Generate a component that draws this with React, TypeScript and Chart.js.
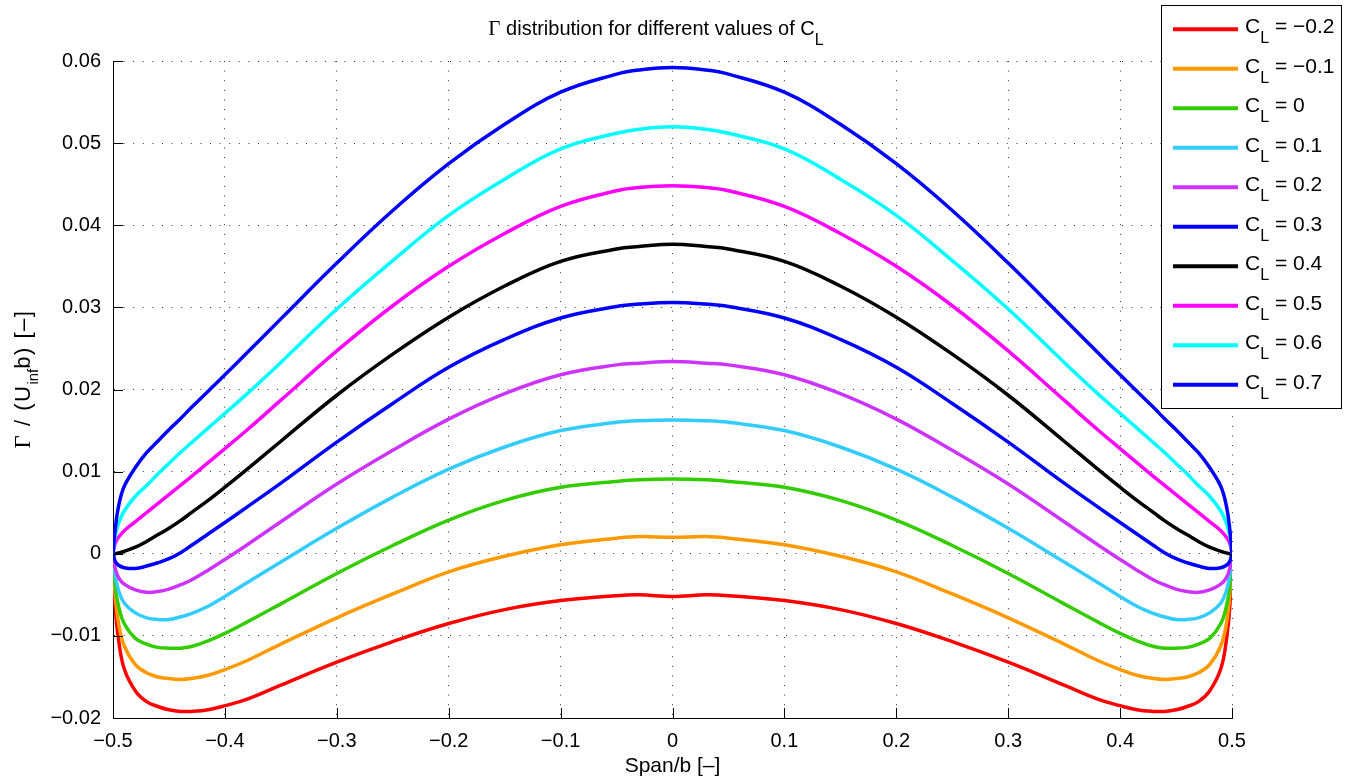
import React, { useEffect, useRef } from "react";
import { Chart, registerables } from "chart.js";

Chart.register(...registerables);

// Span positions (Span/b)
const spanX = [
  -0.5, -0.498, -0.495, -0.49, -0.48, -0.47, -0.46, -0.45, -0.44, -0.43, -0.415,
  -0.4, -0.38, -0.35, -0.3, -0.25, -0.2, -0.15, -0.1, -0.05, -0.03, 0,
  0.03, 0.05, 0.1, 0.15, 0.2, 0.25, 0.3, 0.35, 0.38, 0.4,
  0.415, 0.43, 0.44, 0.45, 0.46, 0.47, 0.48, 0.49, 0.495, 0.498, 0.5,
];

const clLabels = ["\u22120.2", "\u22120.1", "0", "0.1", "0.2", "0.3", "0.4", "0.5", "0.6", "0.7"];

const gammaCLm02 = [
  0, -0.0065, -0.0105, -0.014, -0.0167, -0.018, -0.0186, -0.019, -0.0192, -0.0192, -0.019,
  -0.0185, -0.0177, -0.016, -0.0132, -0.0107, -0.0085, -0.0068, -0.0057, -0.0051, -0.005, -0.0052,
  -0.005, -0.0051, -0.0057, -0.0068, -0.0085, -0.0107, -0.0132, -0.016, -0.0177, -0.0185,
  -0.019, -0.0192, -0.0192, -0.019, -0.0186, -0.018, -0.0167, -0.014, -0.0105, -0.0065, 0,
];
const gammaCLm01 = [
  0, -0.005, -0.0085, -0.0112, -0.0135, -0.0145, -0.015, -0.0152, -0.0153, -0.0152, -0.0148,
  -0.0141, -0.013, -0.011, -0.0078, -0.0049, -0.0022, -0.0003, 0.0011, 0.0019, 0.0021, 0.002,
  0.0021, 0.0019, 0.0011, -0.0003, -0.0022, -0.0049, -0.0078, -0.011, -0.013, -0.0141,
  -0.0148, -0.0152, -0.0153, -0.0152, -0.015, -0.0145, -0.0135, -0.0112, -0.0085, -0.005, 0,
];
const gammaCL00 = [
  0, -0.004, -0.0064, -0.0085, -0.0103, -0.011, -0.0114, -0.0115, -0.0115, -0.0113, -0.0106,
  -0.0097, -0.0083, -0.0061, -0.0024, 0.001, 0.0041, 0.0065, 0.0081, 0.0088, 0.009, 0.0091,
  0.009, 0.0088, 0.0081, 0.0065, 0.0041, 0.001, -0.0024, -0.0061, -0.0083, -0.0097,
  -0.0106, -0.0113, -0.0115, -0.0115, -0.0114, -0.011, -0.0103, -0.0085, -0.0064, -0.004, 0,
];
const gammaCL01 = [
  0, -0.0026, -0.0045, -0.006, -0.0072, -0.0078, -0.008, -0.008, -0.0077, -0.0073, -0.0064,
  -0.0052, -0.0035, -0.001, 0.0031, 0.0069, 0.0103, 0.013, 0.015, 0.016, 0.0162, 0.0163,
  0.0162, 0.016, 0.015, 0.013, 0.0103, 0.0069, 0.0031, -0.001, -0.0035, -0.0052,
  -0.0064, -0.0073, -0.0077, -0.008, -0.008, -0.0078, -0.0072, -0.006, -0.0045, -0.0026, 0,
];
const gammaCL02 = [
  0, -0.0018, -0.0029, -0.0037, -0.0044, -0.0047, -0.0046, -0.0043, -0.0038, -0.0032, -0.002,
  -0.0007, 0.0011, 0.0039, 0.0085, 0.0126, 0.0164, 0.0195, 0.0218, 0.023, 0.0232, 0.0234,
  0.0232, 0.023, 0.0218, 0.0195, 0.0164, 0.0126, 0.0085, 0.0039, 0.0011, -0.0007,
  -0.002, -0.0032, -0.0038, -0.0043, -0.0046, -0.0047, -0.0044, -0.0037, -0.0029, -0.0018, 0,
];
const gammaCL03 = [
  0, -0.0009, -0.0014, -0.0017, -0.0018, -0.0015, -0.0011, -0.0006, 0.0001, 0.001, 0.0024,
  0.0038, 0.0057, 0.0086, 0.0136, 0.0183, 0.0227, 0.0261, 0.0287, 0.0301, 0.0304, 0.0306,
  0.0304, 0.0301, 0.0287, 0.0261, 0.0227, 0.0183, 0.0136, 0.0086, 0.0057, 0.0038,
  0.0024, 0.001, 0.0001, -0.0006, -0.0011, -0.0015, -0.0018, -0.0017, -0.0014, -0.0009, 0,
];
const gammaCL04 = [
  0, 0.0, 0.0001, 0.0003, 0.0008, 0.0015, 0.0023, 0.0031, 0.004, 0.005, 0.0065,
  0.0081, 0.0103, 0.0137, 0.0193, 0.0243, 0.0288, 0.0326, 0.0356, 0.0371, 0.0374, 0.0377,
  0.0374, 0.0371, 0.0356, 0.0326, 0.0288, 0.0243, 0.0193, 0.0137, 0.0103, 0.0081,
  0.0065, 0.005, 0.004, 0.0031, 0.0023, 0.0015, 0.0008, 0.0003, 0.0001, 0.0, 0,
];
const gammaCL05 = [
  0, 0.0013, 0.002, 0.0028, 0.0039, 0.005, 0.0061, 0.0072, 0.0083, 0.0094, 0.0111,
  0.0128, 0.0151, 0.0187, 0.0247, 0.0302, 0.035, 0.039, 0.0423, 0.0442, 0.0446, 0.0448,
  0.0446, 0.0442, 0.0423, 0.039, 0.035, 0.0302, 0.0247, 0.0187, 0.0151, 0.0128,
  0.0111, 0.0094, 0.0083, 0.0072, 0.0061, 0.005, 0.0039, 0.0028, 0.002, 0.0013, 0,
];
const gammaCL06 = [
  0, 0.0022, 0.0037, 0.0052, 0.007, 0.0083, 0.0097, 0.011, 0.0123, 0.0135, 0.0153,
  0.0171, 0.0195, 0.0233, 0.0298, 0.0357, 0.0412, 0.0456, 0.0493, 0.0512, 0.0517, 0.052,
  0.0517, 0.0512, 0.0493, 0.0456, 0.0412, 0.0357, 0.0298, 0.0233, 0.0195, 0.0171,
  0.0153, 0.0135, 0.0123, 0.011, 0.0097, 0.0083, 0.007, 0.0052, 0.0037, 0.0022, 0,
];
const gammaCL07 = [
  0, 0.003, 0.0058, 0.0082, 0.0105, 0.0123, 0.0137, 0.0151, 0.0164, 0.0178, 0.0198,
  0.0218, 0.0245, 0.0286, 0.0354, 0.0418, 0.0475, 0.0523, 0.0562, 0.0584, 0.0589, 0.0592,
  0.0589, 0.0584, 0.0562, 0.0523, 0.0475, 0.0418, 0.0354, 0.0286, 0.0245, 0.0218,
  0.0198, 0.0178, 0.0164, 0.0151, 0.0137, 0.0123, 0.0105, 0.0082, 0.0058, 0.003, 0,
];

const allSeries = [
  gammaCLm02, gammaCLm01, gammaCL00, gammaCL01, gammaCL02,
  gammaCL03, gammaCL04, gammaCL05, gammaCL06, gammaCL07,
];

const xTickValues = [-0.5, -0.4, -0.3, -0.2, -0.1, 0, 0.1, 0.2, 0.3, 0.4, 0.5];
const yTickValues = [-0.02, -0.01, 0, 0.01, 0.02, 0.03, 0.04, 0.05, 0.06];

const seriesColors = [
  "#ff0000", "#ff9900", "#33cc00", "#33ccff", "#cc33ff",
  "#0000ff", "#000000", "#ff00ff", "#00ffff", "#0000ff",
];

const SANS = "'Liberation Sans', Arial, Helvetica, sans-serif";
const SERIF = "'Liberation Serif', 'Times New Roman', serif";

type Seg = { t: string; size: number; serif?: boolean; dy?: number; sp?: number };

function segAdvance(ctx: CanvasRenderingContext2D, s: Seg) {
  ctx.font = `${s.size}px ${s.serif ? SERIF : SANS}`;
  if (s.sp) {
    let w = 0;
    for (const ch of s.t) w += ctx.measureText(ch).width + s.sp;
    return w;
  }
  return ctx.measureText(s.t).width;
}

function drawRich(
  ctx: CanvasRenderingContext2D,
  segs: Seg[],
  x: number,
  y: number,
  align: "left" | "center"
) {
  let total = 0;
  for (const s of segs) total += segAdvance(ctx, s);
  let cx = align === "center" ? x - total / 2 : x;
  ctx.textAlign = "left";
  ctx.textBaseline = "alphabetic";
  ctx.fillStyle = "#000";
  for (const s of segs) {
    ctx.font = `${s.size}px ${s.serif ? SERIF : SANS}`;
    if (s.sp) {
      for (const ch of s.t) {
        ctx.fillText(ch, cx, y + (s.dy || 0));
        cx += ctx.measureText(ch).width + s.sp;
      }
    } else {
      ctx.fillText(s.t, cx, y + (s.dy || 0));
      cx += ctx.measureText(s.t).width;
    }
  }
}

const fmt = (v: number, digits: number) => {
  if (Math.abs(v) < 1e-9) return "0";
  return (v < 0 ? "\u2212" : "") + Math.abs(v).toFixed(digits);
};

const decorPlugin = {
  id: "decor",
  beforeDraw(chart: any) {
    const ctx = chart.ctx;
    ctx.save();
    ctx.fillStyle = "#fff";
    ctx.fillRect(0, 0, chart.width, chart.height);
    ctx.restore();
  },
  afterDraw(chart: any) {
    const ctx: CanvasRenderingContext2D = chart.ctx;
    const area = chart.chartArea;
    const xs = chart.scales.x;
    const ys = chart.scales.y;
    ctx.save();

    // inward tick marks
    ctx.strokeStyle = "#000";
    ctx.lineWidth = 1;
    ctx.beginPath();
    for (const v of yTickValues) {
      const py = Math.round(ys.getPixelForValue(v)) + 0.5;
      ctx.moveTo(area.left, py);
      ctx.lineTo(area.left + 10, py);
    }
    for (const v of xTickValues) {
      const px = Math.round(xs.getPixelForValue(v)) + 0.5;
      ctx.moveTo(px, area.bottom);
      ctx.lineTo(px, area.bottom - 10);
    }
    ctx.stroke();

    // title
    drawRich(
      ctx,
      [
        { t: "\u0393", size: 21, serif: true },
        { t: " distribution for different values of C", size: 20 },
        { t: "L", size: 16, dy: 10 },
      ],
      656,
      35,
      "center"
    );

    // x label
    drawRich(ctx, [{ t: "Span/b [\u2013]", size: 21 }], (area.left + area.right) / 2, 772, "center");

    // y label (reads bottom to top)
    ctx.save();
    ctx.translate(30, 379);
    ctx.rotate(-Math.PI / 2);
    drawRich(
      ctx,
      [
        { t: "\u0393", size: 23, serif: true, sp: 1.5 },
        { t: " / (U", size: 22, sp: 1.5 },
        { t: "inf", size: 15, dy: 8 },
        { t: "b) [\u2013]", size: 22, sp: 1.5 },
      ],
      0,
      0,
      "center"
    );
    ctx.restore();

    // legend
    const lx = 1161.5, ly = 5.5, lw = 180, lh = 403;
    ctx.fillStyle = "#fff";
    ctx.fillRect(lx, ly, lw, lh);
    ctx.strokeStyle = "#000";
    ctx.lineWidth = 1;
    ctx.strokeRect(lx, ly, lw, lh);
    for (let i = 0; i < clLabels.length; i++) {
      const ry = 29.3 + i * 39.5;
      ctx.strokeStyle = seriesColors[i];
      ctx.lineWidth = 4;
      ctx.beginPath();
      ctx.moveTo(1173, ry);
      ctx.lineTo(1238, ry);
      ctx.stroke();
      drawRich(
        ctx,
        [
          { t: "C", size: 21 },
          { t: "L", size: 16, dy: 10 },
          { t: " = " + clLabels[i], size: 21 },
        ],
        1245,
        ry + 4,
        "left"
      );
    }
    ctx.restore();
  },
};

export default function App() {
  const canvasRef = useRef<HTMLCanvasElement | null>(null);

  useEffect(() => {
    const canvas = canvasRef.current;
    if (!canvas) return;
    const datasets = allSeries.map((arr, i) => ({
      label: "C_L = " + clLabels[i],
      data: spanX.map((x, j) => ({ x, y: arr[j] })),
      borderColor: seriesColors[i],
      backgroundColor: seriesColors[i],
      borderWidth: 3.5,
      pointRadius: 0,
      fill: false,
      tension: 0.4,
      order: allSeries.length - i,
    }));

    const gridCommon = {
      color: "rgba(0,0,0,0.8)",
      lineWidth: 1,
      drawTicks: false,
    };

    const chart = new Chart(canvas, {
      type: "line",
      data: { datasets },
      options: {
        animation: false,
        responsive: false,
        events: [],
        layout: { padding: { left: 0, right: 120, top: 61, bottom: 0 } },
        plugins: {
          legend: { display: false },
          title: { display: false },
          tooltip: { enabled: false },
        },
        scales: {
          x: {
            type: "linear",
            min: -0.5,
            max: 0.5,
            afterBuildTicks: (scale: any) => {
              scale.ticks = xTickValues.map((v) => ({ value: v }));
            },
            afterFit: (scale: any) => {
              scale.height = 62;
            },
            ticks: {
              callback: (v: any) => fmt(Number(v), 1),
              font: { family: SANS, size: 20 },
              color: "#000",
              padding: 11,
              maxRotation: 0,
              autoSkip: false,
            },
            grid: gridCommon,
            border: { display: true, color: "#000", width: 1, dash: [1, 8.6] },
          },
          y: {
            type: "linear",
            min: -0.02,
            max: 0.06,
            afterBuildTicks: (scale: any) => {
              scale.ticks = yTickValues.map((v) => ({ value: v }));
            },
            afterFit: (scale: any) => {
              scale.width = 113;
            },
            ticks: {
              callback: (v: any) => fmt(Number(v), 2),
              font: { family: SANS, size: 20 },
              color: "#000",
              padding: 12,
              autoSkip: false,
            },
            grid: gridCommon,
            border: { display: true, color: "#000", width: 1, dash: [1, 8.6] },
          },
        },
      } as any,
      plugins: [decorPlugin],
    });

    return () => chart.destroy();
  }, []);

  return (
    <div style={{ position: "fixed", left: 0, top: 0, width: 1352, height: 780, background: "#fff" }}>
      <canvas ref={canvasRef} width={1352} height={780} style={{ display: "block" }} />
    </div>
  );
}
